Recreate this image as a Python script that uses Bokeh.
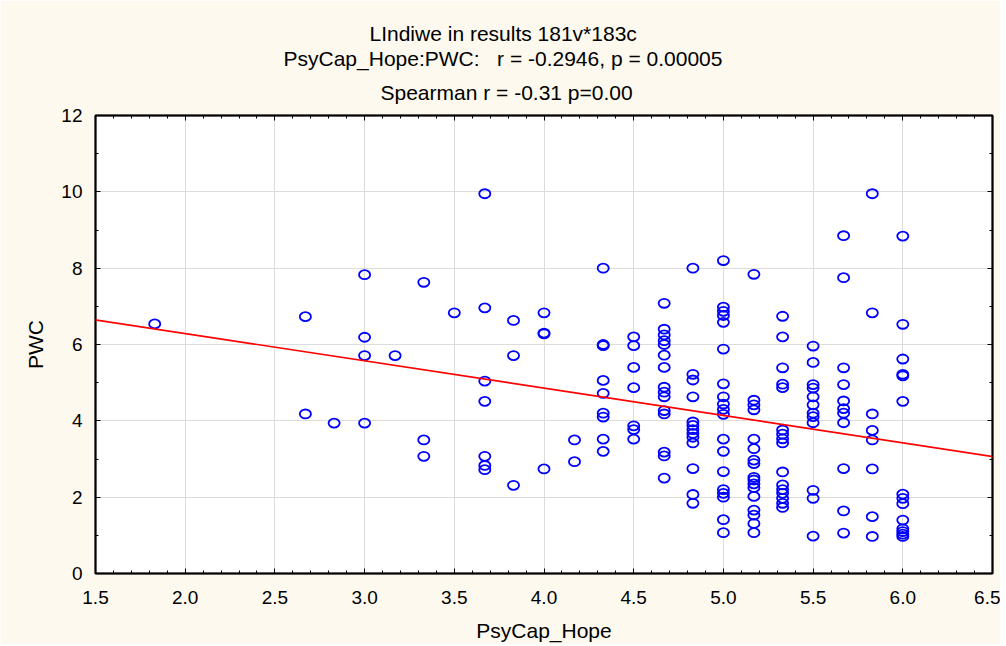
from bokeh.plotting import figure
from bokeh.models import (ColumnDataSource, Range1d, LinearAxis, Title, Slope,
                          SingleIntervalTicker, CustomJSTickFormatter)
from bokeh.embed import file_html
from bokeh.resources import INLINE

# ---------------- data ----------------
title_lines = ["LIndiwe in results 181v*183c",
               "PsyCap_Hope:PWC:\u00a0\u00a0 r = -0.2946, p = 0.00005",
               "Spearman r = -0.31 p=0.00"]
x_label = "PsyCap_Hope"
y_label = "PWC"
x_tick_values = [1.5, 2.0, 2.5, 3.0, 3.5, 4.0, 4.5, 5.0, 5.5, 6.0, 6.5]
x_tick_labels = ["1.5", "2.0", "2.5", "3.0", "3.5", "4.0", "4.5", "5.0", "5.5", "6.0", "6.5"]
y_tick_values = [0, 2, 4, 6, 8, 10, 12]
y_tick_labels = ["0", "2", "4", "6", "8", "10", "12"]

hope = (
    [1.83]
    + [2.67] * 2
    + [2.83]
    + [3.0] * 4
    + [3.17]
    + [3.33] * 3
    + [3.5]
    + [3.67] * 7
    + [3.83] * 3
    + [4.0] * 4
    + [4.17] * 2
    + [4.33] * 9
    + [4.5] * 7
    + [4.67] * 15
    + [4.83] * 13
    + [5.0] * 19
    + [5.17] * 17
    + [5.33] * 16
    + [5.5] * 12
    + [5.67] * 11
    + [5.83] * 8
    + [6.0] * 14
)
pwc = (
    [6.54]
    + [6.73, 4.18]
    + [3.94]
    + [7.83, 6.19, 5.71, 3.94]
    + [5.71]
    + [7.63, 3.5, 3.07]
    + [6.83]
    + [9.95, 6.96, 5.04, 4.51, 3.07, 2.83, 2.72]
    + [6.63, 5.71, 2.31]
    + [6.83, 6.3, 6.28, 2.74]
    + [3.5, 2.93]
    + [8.0, 6.0, 5.97, 5.06, 4.72, 4.2, 4.1, 3.52, 3.2]
    + [6.2, 5.97, 5.4, 4.87, 3.87, 3.77, 3.52]
    + [7.08, 6.4, 6.25, 6.1, 6.0, 5.72, 5.4, 4.88, 4.75, 4.63, 4.27, 4.18, 3.18, 3.08, 2.5]
    + [8.0, 5.22, 5.07, 4.63, 3.97, 3.88, 3.77, 3.67, 3.57, 3.42, 2.75, 2.07, 1.84]
    + [8.2, 6.98, 6.87, 6.76, 6.58, 5.88, 4.97, 4.63, 4.44, 4.3, 4.17, 3.52, 3.2, 2.67,
       2.2, 2.1, 2.0, 1.41, 1.07]
    + [7.84, 4.54, 4.42, 4.29, 3.52, 3.27, 2.97, 2.88, 2.52, 2.45, 2.35, 2.25, 2.02,
       1.66, 1.53, 1.31, 1.07]
    + [6.74, 6.2, 5.39, 4.96, 4.87, 3.76, 3.65, 3.53, 3.42, 2.66, 2.32, 2.2, 2.1, 1.97,
       1.84, 1.73]
    + [5.96, 5.53, 4.95, 4.86, 4.63, 4.42, 4.2, 4.11, 3.95, 2.18, 1.97, 0.98]
    + [8.85, 7.75, 5.39, 4.95, 4.52, 4.32, 4.2, 3.95, 2.75, 1.64, 1.06]
    + [9.95, 6.83, 4.18, 3.75, 3.5, 2.74, 1.49, 0.97]
    + [8.84, 6.53, 5.62, 5.22, 5.18, 4.51, 2.08, 1.97, 1.83, 1.4, 1.17, 1.1, 1.03, 0.97]
)

# fitted regression line as drawn in the reference (slope / intercept)
fit_slope = -0.716
fit_intercept = 7.72

# ---------------- style ----------------
FONT = "Liberation Sans"
CREAM = "#FDF9EE"
TICK_FS = "19px"
LABEL_FS = "21px"

source = ColumnDataSource(data=dict(hope=hope, pwc=pwc))

p = figure(width=1000, height=644, output_backend="svg", toolbar_location=None,
           title_location=None,
           x_range=Range1d(1.5, 6.5), y_range=Range1d(0, 12),
           min_border_left=95, min_border_right=8, min_border_top=115,
           min_border_bottom=71,
           background_fill_color="white", border_fill_color=CREAM,
           outline_line_color="black", outline_line_width=2)

xt = SingleIntervalTicker(interval=0.5, num_minor_ticks=5)
yt = SingleIntervalTicker(interval=2, num_minor_ticks=2)

def style_axis(ax, ticker, labels=True):
    ax.ticker = ticker
    ax.major_tick_in = 5
    ax.major_tick_out = 0
    ax.minor_tick_in = 3
    ax.minor_tick_out = 0
    ax.major_tick_line_color = "black"
    ax.minor_tick_line_color = "black"
    ax.axis_line_color = "black"
    ax.axis_line_width = 1.5
    ax.major_label_text_font = FONT
    ax.major_label_text_color = "black"
    ax.major_label_text_font_size = TICK_FS
    ax.axis_label_text_font = FONT
    ax.axis_label_text_font_style = "normal"
    ax.axis_label_text_color = "black"
    ax.axis_label_text_font_size = LABEL_FS
    if not labels:
        ax.formatter = CustomJSTickFormatter(code="return ''")
        ax.major_label_standoff = 0

style_axis(p.xaxis[0], xt)
style_axis(p.yaxis[0], yt)
p.xaxis[0].major_label_overrides = {v: s for v, s in zip(x_tick_values, x_tick_labels)}
p.yaxis[0].major_label_overrides = {v: s for v, s in zip(y_tick_values, y_tick_labels)}
p.xaxis[0].axis_label = x_label
p.yaxis[0].axis_label = y_label
p.xaxis[0].major_label_standoff = 17
p.xaxis[0].axis_label_standoff = 12
p.yaxis[0].major_label_standoff = 13
p.yaxis[0].axis_label_standoff = 11

top_axis = LinearAxis()
style_axis(top_axis, SingleIntervalTicker(interval=0.5, num_minor_ticks=5), labels=False)
right_axis = LinearAxis()
style_axis(right_axis, SingleIntervalTicker(interval=2, num_minor_ticks=2), labels=False)
p.add_layout(top_axis, "above")
p.add_layout(right_axis, "right")

# titles: nearest to the frame first; left-aligned with per-line offsets so
# that each line is centred over the whole chart as in the reference
title_offsets = [274, 188, 285]
title_standoffs = [3, -3, 20]
for i in reversed(range(len(title_lines))):
    p.add_layout(Title(text=title_lines[i], align="left", vertical_align="top",
                       offset=title_offsets[i], standoff=title_standoffs[i],
                       text_font=FONT, text_font_size=LABEL_FS, text_font_style="normal",
                       text_color="black"), "above")

p.xgrid.ticker = xt
p.ygrid.ticker = yt
p.grid.grid_line_color = "#DCDCDC"
p.grid.grid_line_width = 1

# points
p.ellipse(x="hope", y="pwc", width=0.062, height=0.235, source=source,
          fill_color=None, line_color="#0000FF", line_width=1.8)

p.add_layout(Slope(gradient=fit_slope, y_intercept=fit_intercept, line_color="#FF0000",
                   line_width=1.7))

open("out.html", "w").write(file_html(p, INLINE))
